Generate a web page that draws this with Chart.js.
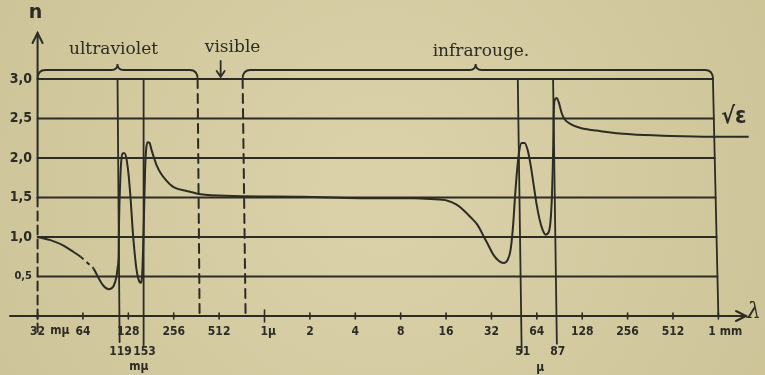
<!DOCTYPE html>
<html>
<head>
<meta charset="utf-8">
<script src="https://cdn.jsdelivr.net/npm/chart.js@4.4.0/dist/chart.umd.min.js"></script>
<style>
html,body{margin:0;padding:0;background:#d7cda6;}
</style>
</head>
<body>
<canvas id="c" width="765" height="375"></canvas>
<script>
// wavelength in nm (octave scale), refractive index n
var wl = [32, 39, 47.6, 55.5, 61.7, 68.7, 75.3, 81.2, 87.7, 94.7, 102.2, 107, 108.6, 110.3, 111.1, 112.8, 114.6, 117.2, 120.8, 124.6,
  128.4, 132.4, 136.5, 140.7, 145.2, 149.7, 154.3, 157.9, 160.3, 162.8, 165.3, 167.8, 171.7, 177.1, 182.5, 188.2, 197, 209.4, 229.6, 255.5,
  316.3, 385.9, 638.7, 1777, 6032, 9987, 12944, 16787, 19258, 21427, 23856, 26541, 29085, 31389, 33882, 36563, 39482, 41962, 43926, 45632,
  47053, 48509, 50010, 51987, 54419, 56966, 59635, 62432, 65354, 68413, 71616, 74970, 78528, 80960, 82832, 84096, 84736, 86048, 88704, 91456,
  95744, 100224, 109824, 128000, 173664, 274560, 506112, 931968, 1666240];
var nVal = [1.0, 0.96, 0.89, 0.81, 0.75, 0.67, 0.6, 0.48, 0.38, 0.34, 0.38, 0.51, 0.61, 0.77, 1.22, 1.66, 1.94, 2.06, 2.06, 1.98,
  1.79, 1.49, 1.11, 0.81, 0.58, 0.46, 0.42, 0.51, 0.84, 1.34, 1.85, 2.1, 2.2, 2.19, 2.1, 2.02, 1.91, 1.81, 1.71, 1.63,
  1.58, 1.54, 1.52, 1.51, 1.49, 1.49, 1.48, 1.46, 1.41, 1.34, 1.25, 1.15, 1.01, 0.89, 0.77, 0.7, 0.67, 0.71, 0.84, 1.15,
  1.53, 1.85, 2.08, 2.19, 2.19, 2.1, 1.91, 1.66, 1.41, 1.22, 1.09, 1.03, 1.06, 1.22, 1.6, 2.1, 2.54, 2.73, 2.76, 2.71,
  2.57, 2.49, 2.43, 2.38, 2.34, 2.3, 2.28, 2.27, 2.27];
var dashFrom = 4, dashTo = 6; // dotted bit of the uv tail

var gridN = [0.5, 1, 1.5, 2, 2.5, 3];
var gridLabels = ['0,5', '1,0', '1,5', '2,0', '2,5', '3,0'];
var tickWl = [32, 64, 128, 256, 512, 1024, 2048, 4096, 8192, 16384, 32768, 65536, 131072, 262144, 524288, 1048576];
var tickLabels = ['32', '64', '128', '256', '512', '1μ', '2', '4', '8', '16', '32', '64', '128', '256', '512', '1 mm'];

// absorption lines (top / bottom wavelength, lower end in n)
var lineTop = [108.5, 161.6, 49000, 84000];
var lineBot = [112, 161.6, 52000, 89000];
var lineEnd = [-0.33, -0.37, -0.46, -0.35];
var lineLabels = ['119', '153', '51', '87'];
// visible band limits (dashed)
var visTop = [368.6, 733];
var visBot = [380, 767];
// end of the scale (1 mm)
var edgeTop = 965000, edgeBot = 1048576;

var ink = '#2c2b24';

function brace(c, x1, xm, x2, yb) {
  var h = 9, r = 8;
  c.beginPath();
  c.moveTo(x1, yb);
  c.quadraticCurveTo(x1, yb - h, x1 + r, yb - h);
  c.lineTo(xm - 6, yb - h);
  c.quadraticCurveTo(xm, yb - h, xm, yb - h - 6);
  c.quadraticCurveTo(xm, yb - h, xm + 6, yb - h);
  c.lineTo(x2 - r, yb - h);
  c.quadraticCurveTo(x2, yb - h, x2, yb);
  c.stroke();
}

var paper = {
  id: 'paper',
  beforeDraw: function (chart) {
    var c = chart.ctx;
    var g = c.createRadialGradient(380, 190, 50, 380, 190, 480);
    g.addColorStop(0, '#dad1a9');
    g.addColorStop(1, '#ccc296');
    c.save();
    c.fillStyle = g;
    c.fillRect(0, 0, chart.width, chart.height);
    c.restore();
  },
  beforeDatasetsDraw: function (chart) {
    var c = chart.ctx, xs = chart.scales.x, ys = chart.scales.y;
    var X = function (v) { return xs.getPixelForValue(v); };
    var Y = function (v) { return ys.getPixelForValue(v); };
    var y0 = Y(0), y3 = Y(3);
    var eT = X(edgeTop), eB = X(edgeBot);
    c.save();
    c.strokeStyle = ink;
    c.lineCap = 'round';

    // horizontal grid
    c.lineWidth = 1.8;
    gridN.forEach(function (n) {
      var y = Y(n);
      var xe = eT + (eB - eT) * (3 - n) / 3;
      c.beginPath();
      c.moveTo(X(32), y);
      c.lineTo(xe, y);
      c.stroke();
    });

    // x axis with arrow
    c.lineWidth = 2;
    c.beginPath();
    c.moveTo(chart.chartArea.left, y0);
    c.lineTo(chart.chartArea.right - 4, y0);
    c.stroke();
    var ax = chart.chartArea.right - 4;
    c.beginPath();
    c.moveTo(ax - 10, y0 - 5);
    c.lineTo(ax, y0);
    c.lineTo(ax - 10, y0 + 5);
    c.stroke();

    // ticks
    c.lineWidth = 1.6;
    tickWl.forEach(function (w, i) {
      var x = X(w), t = (i === 5) ? 6 : 3;
      c.beginPath();
      c.moveTo(x, y0 - t);
      c.lineTo(x, y0 + t);
      c.stroke();
    });

    // y axis: solid top, dash-dot below 1.5
    var yx = X(32);
    c.lineWidth = 2;
    c.beginPath();
    c.moveTo(yx, 33);
    c.lineTo(yx, Y(1.5));
    c.stroke();
    c.beginPath();
    c.moveTo(yx - 5, 43);
    c.lineTo(yx, 33);
    c.lineTo(yx + 5, 43);
    c.stroke();
    c.setLineDash([9, 5]);
    c.beginPath();
    c.moveTo(yx, Y(1.5));
    c.lineTo(yx, Y(-0.2));
    c.stroke();
    c.setLineDash([]);

    // absorption lines
    c.lineWidth = 1.8;
    lineTop.forEach(function (w, i) {
      c.beginPath();
      c.moveTo(X(w), y3);
      c.lineTo(X(lineBot[i]), Y(lineEnd[i]));
      c.stroke();
    });
    // 1 mm edge
    c.beginPath();
    c.moveTo(eT, y3);
    c.lineTo(eB, y0);
    c.stroke();

    // visible limits
    c.lineWidth = 2;
    c.setLineDash([9, 6]);
    visTop.forEach(function (w, i) {
      c.beginPath();
      c.moveTo(X(w), y3);
      c.lineTo(X(visBot[i]), y0);
      c.stroke();
    });
    c.setLineDash([]);

    // braces
    c.lineWidth = 1.8;
    brace(c, X(32), X(lineTop[0]), X(visTop[0]), y3);
    brace(c, X(visTop[1]), X(25750), eT, y3);

    // arrow to visible
    var vx = X(524);
    c.beginPath();
    c.moveTo(vx, 61);
    c.lineTo(vx, y3 - 2);
    c.moveTo(vx - 4, y3 - 8);
    c.lineTo(vx, y3 - 2);
    c.lineTo(vx + 4, y3 - 8);
    c.stroke();
    c.restore();
  },
  afterDatasetsDraw: function (chart) {
    var c = chart.ctx, xs = chart.scales.x, ys = chart.scales.y;
    var X = function (v) { return xs.getPixelForValue(v); };
    var Y = function (v) { return ys.getPixelForValue(v); };
    var y0 = Y(0);
    c.save();
    c.fillStyle = ink;
    c.textBaseline = 'middle';

    // y labels
    c.textAlign = 'right';
    gridN.forEach(function (n, i) {
      c.font = (n === 0.5 ? 'bold 11px' : 'bold 14px') + ' "DejaVu Sans Condensed"';
      c.fillText(gridLabels[i], 32, Y(n));
    });

    // x labels
    c.font = 'bold 12px "DejaVu Sans Condensed"';
    tickWl.forEach(function (w, i) {
      var x = X(w), s = tickLabels[i];
      if (s === '1μ') { c.textAlign = 'left'; c.fillText(s, x - 4, y0 + 16); }
      else if (s === '1 mm') { c.textAlign = 'left'; c.fillText(s, x - 10, y0 + 16); }
      else { c.textAlign = 'center'; c.fillText(s, x, y0 + 16); }
    });
    c.textAlign = 'center';
    c.fillText('mμ', X(45), y0 + 15);
    lineLabels.forEach(function (s, i) {
      c.fillText(s, X(lineBot[i]) + 1, y0 + 36);
    });
    c.fillText('mμ', X(150), y0 + 51);
    c.fillText('μ', X(69000), y0 + 52);

    // band names
    c.font = '17px "DejaVu Serif"';
    c.fillText('ultraviolet', X(102), 50);
    c.fillText('visible', X(629), 48);
    c.textAlign = 'left';
    c.fillText('infrarouge.', X(13350), 52);

    // axis symbols
    c.textAlign = 'center';
    c.font = 'bold 19px "DejaVu Sans"';
    c.fillText('n', X(32) - 2, 13);
    c.font = 'italic 22px "DejaVu Serif"';
    c.fillText('λ', 754, y0 - 4);
    c.font = 'bold 23px "DejaVu Sans Condensed"';
    c.fillText('√ε', X(1330000), Y(2.5) - 1);
    c.restore();
  }
};

var chart = new Chart(document.getElementById('c'), {
  type: 'scatter',
  data: {
    datasets: [{
      data: wl.map(function (w, i) { return { x: w, y: nVal[i] }; }),
      showLine: true,
      borderColor: ink,
      borderWidth: 2,
      pointRadius: 0,
      cubicInterpolationMode: 'monotone',
      clip: false,
      segment: {
        borderDash: function (ctx) {
          return (ctx.p0DataIndex >= dashFrom && ctx.p0DataIndex < dashTo) ? [4, 4] : undefined;
        }
      }
    }]
  },
  options: {
    responsive: false,
    animation: false,
    layout: { padding: { left: 10, right: 15, top: 79, bottom: 59 } },
    scales: {
      x: { type: 'logarithmic', min: 21, max: 1.7e6, display: false },
      y: { type: 'linear', min: 0, max: 3, display: false }
    },
    plugins: { legend: { display: false }, tooltip: { enabled: false } }
  },
  plugins: [paper]
});
</script>
</body>
</html>
